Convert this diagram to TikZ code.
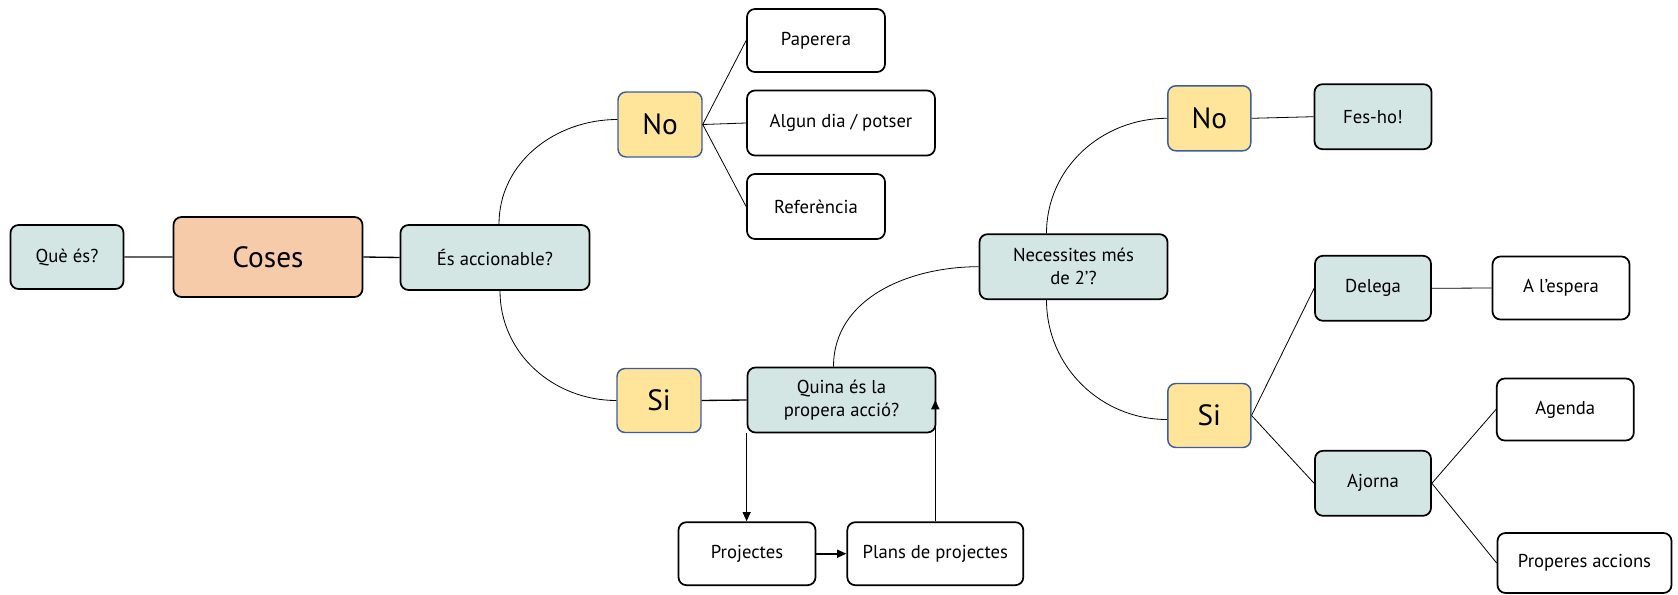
\documentclass[tikz,border=0pt]{standalone}
\usepackage{fontspec}
\setmainfont{PT Sans}
\usetikzlibrary{arrows.meta,calc}
\definecolor{tealc}{RGB}{212,230,228}
\definecolor{orangec}{RGB}{246,203,170}
\definecolor{yellowc}{RGB}{255,229,153}
\definecolor{bluec}{RGB}{62,92,160}
\begin{document}
\begin{tikzpicture}[x=0.75pt,y=-0.75pt,
  box/.style={draw=black, rounded corners=6pt, line width=1.3pt, inner sep=0pt,
    align=center, font=\fontsize{14}{17}\selectfont},
  tealbox/.style={box, fill=tealc},
  whitebox/.style={box, fill=white},
  orangebox/.style={box, fill=orangec, font=\fontsize{22}{26}\selectfont},
  yesno/.style={box, draw=bluec, fill=yellowc, line width=1.1pt, font=\fontsize{22}{26}\selectfont},
  sz/.style 2 args={minimum width=#1*0.75pt, minimum height=#2*0.75pt},
  thin/.style={line width=0.6pt},
  link/.style={line width=1pt},
  flow/.style={line width=1.2pt, -{Triangle[length=7pt,width=6pt]}}
]
\useasboundingbox (0,0) rectangle (1678,595);

\node[tealbox, sz={113}{64}] (que) at (67,257) {Què és?};
\node[orangebox, sz={189}{80}] (coses) at (268,257) {Coses};
\node[tealbox, sz={189}{65}] (esacc) at (495,257.5) {És accionable?};
\node[yesno, sz={84}{65}] (no1) at (660,124.5) {No};
\node[yesno, sz={84}{64}] (si1) at (659,400.5) {Si};
\node[whitebox, sz={138}{63}] (pap) at (816,40.5) {Paperera};
\node[whitebox, sz={188}{65}] (alg) at (841,123) {Algun dia / potser};
\node[whitebox, sz={138}{65}] (ref) at (816,206.5) {Referència};
\node[tealbox, sz={188}{65}] (quina) at (841.5,400) {Quina és la\\propera acció?};
\node[whitebox, sz={137}{63}] (proj) at (747,553.7) {Projectes};
\node[whitebox, sz={176}{63}] (plans) at (935.3,553.7) {Plans de projectes};
\node[tealbox, sz={188}{65}] (nec) at (1073.5,266.7) {Necessites més\\de 2’?};
\node[yesno, sz={83}{65}] (no2) at (1209.3,118.3) {No};
\node[yesno, sz={83}{64}] (si2) at (1209.3,415.5) {Si};
\node[tealbox, sz={117}{65}] (fes) at (1373,116.7) {Fes-ho!};
\node[tealbox, sz={116}{65}] (del) at (1373,288.3) {Delega};
\node[whitebox, sz={137}{63}] (esp) at (1561,288) {A l’espera};
\node[tealbox, sz={116}{65}] (ajo) at (1373,483.3) {Ajorna};
\node[whitebox, sz={137}{62}] (age) at (1565.3,409.5) {Agenda};
\node[whitebox, sz={174}{60}] (prop) at (1584.5,563) {Properes accions};

% connectors
\draw[link, draw=black!60] (que.east) -- (coses.west);
\draw[link] (coses.east) -- (esacc.west);
\draw[thin] ($(esacc.north)+(4,0)$) to[out=90,in=180] ($(no1.west)+(0,-5)$);
\draw[thin] ($(esacc.south)+(5,0)$) to[out=-90,in=180] (si1.west);
\draw[thin] (no1.east) -- (pap.west);
\draw[thin] (no1.east) -- (alg.west);
\draw[thin] (no1.east) -- (ref.west);
\draw[link] (si1.east) -- (quina.west);
\draw[flow] (quina.south west) -- (quina.south west |- proj.north);
\draw[flow] (proj.east) -- (plans.west);
\draw[flow] (plans.north) -- (plans.north |- quina.east);
\draw[thin] ($(quina.north)+(-8,0)$) to[out=90,in=180] (nec.west);
\draw[thin] ($(nec.north)+(-27,0)$) to[out=90,in=180] (no2.west);
\draw[thin] ($(nec.south)+(-27,0)$) to[out=-90,in=180] ($(si2.west)+(0,4)$);
\draw[thin] (no2.east) -- (fes.west);
\draw[thin] (si2.east) -- (del.west);
\draw[thin] (si2.east) -- (ajo.west);
\draw[thin] (del.east) -- (esp.west);
\draw[thin] (ajo.east) -- (age.west);
\draw[thin] (ajo.east) -- (prop.west);
\end{tikzpicture}
\end{document}
